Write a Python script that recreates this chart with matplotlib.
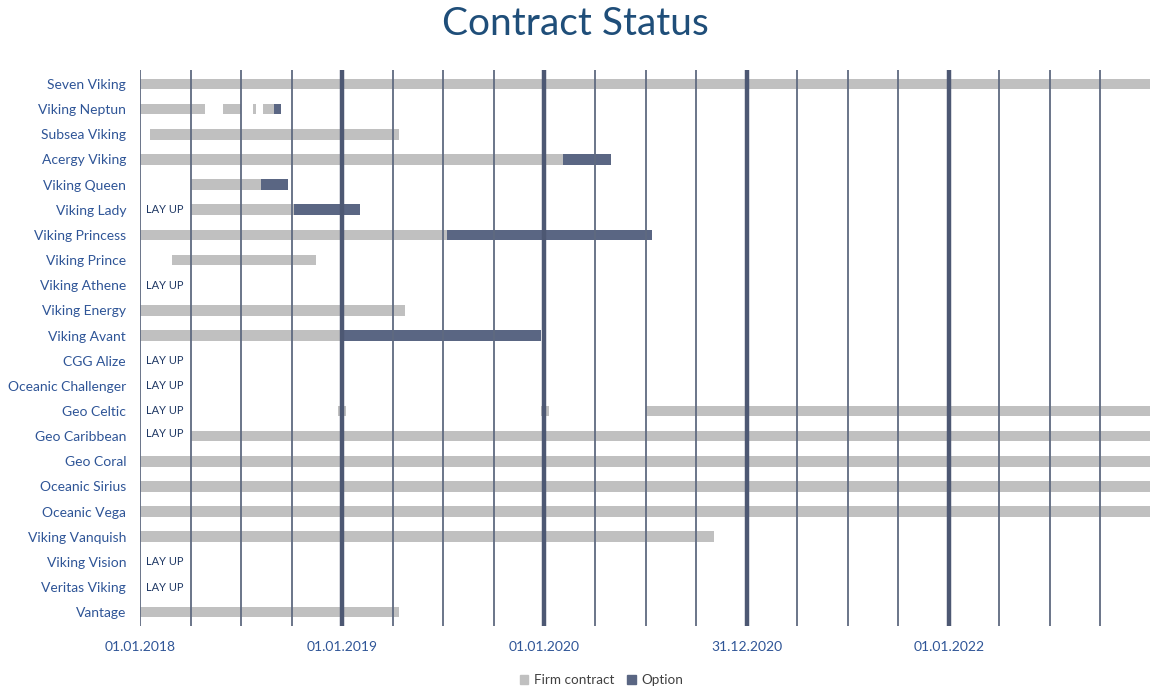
import matplotlib
matplotlib.use("Agg")
import matplotlib.pyplot as plt
from matplotlib.patches import Patch

# vessels top to bottom
vessels = ["Seven Viking", "Viking Neptun", "Subsea Viking", "Acergy Viking",
           "Viking Queen", "Viking Lady", "Viking Princess", "Viking Prince",
           "Viking Athene", "Viking Energy", "Viking Avant", "CGG Alize",
           "Oceanic Challenger", "Geo Celtic", "Geo Caribbean", "Geo Coral",
           "Oceanic Sirius", "Oceanic Vega", "Viking Vanquish", "Viking Vision",
           "Veritas Viking", "Vantage"]

# time in years after 01.01.2018
firm_vessel = ["Seven Viking", "Viking Neptun", "Viking Neptun", "Viking Neptun",
               "Viking Neptun", "Subsea Viking", "Acergy Viking", "Viking Queen",
               "Viking Lady", "Viking Princess", "Viking Prince", "Viking Energy",
               "Viking Avant", "Geo Celtic", "Geo Celtic", "Geo Celtic",
               "Geo Caribbean", "Geo Coral", "Oceanic Sirius", "Oceanic Vega",
               "Viking Vanquish", "Vantage"]
firm_start = [0.0, 0.0, 0.41, 0.56, 0.61, 0.05, 0.0, 0.25,
              0.25, 0.0, 0.16, 0.0,
              0.0, 0.98, 1.985, 2.5,
              0.25, 0.0, 0.0, 0.0,
              0.0, 0.0]
firm_end = [5.0, 0.32, 0.50, 0.575, 0.665, 1.28, 2.09, 0.60,
            0.76, 1.52, 0.87, 1.31,
            1.0, 1.02, 2.025, 5.0,
            5.0, 5.0, 5.0, 5.0,
            2.84, 1.28]

option_vessel = ["Viking Neptun", "Acergy Viking", "Viking Queen", "Viking Lady",
                 "Viking Princess", "Viking Avant"]
option_start = [0.665, 2.09, 0.60, 0.76, 1.52, 1.0]
option_end = [0.695, 2.33, 0.73, 1.09, 2.53, 1.985]

layup_vessels = ["Viking Lady", "Viking Athene", "CGG Alize", "Oceanic Challenger",
                 "Geo Celtic", "Geo Caribbean", "Viking Vision", "Veritas Viking"]

year_labels = ["01.01.2018", "01.01.2019", "01.01.2020", "31.12.2020", "01.01.2022"]

plt.rcParams['font.family'] = ['Lato', 'DejaVu Sans']

FIRM = "#c0c0c0"
OPTION = "#5a6683"
GRID = "#5f6a80"
TEXT = "#2f5597"

fig = plt.figure(figsize=(11.5, 6.91), dpi=100)
ax = fig.add_axes([140 / 1150, 1 - 626 / 691, 1 - 140 / 1150, (626 - 70.2) / 691])

row = {v: i for i, v in enumerate(vessels)}
bar_h = 0.42

for v, s, e in zip(firm_vessel, firm_start, firm_end):
    ax.barh(row[v], e - s, left=s, height=bar_h, color=FIRM, zorder=2)
for v, s, e in zip(option_vessel, option_start, option_end):
    ax.barh(row[v], e - s, left=s, height=bar_h, color=OPTION, zorder=2)

for v in layup_vessels:
    dy = -0.12 if v == "Geo Caribbean" else 0
    ax.text(0.03, row[v] + dy, "LAY UP", fontsize=8, color="#1f3864",
            va="center", ha="left", zorder=4)

# quarter lines thin, year lines thick
for q in range(20):
    x = q / 4
    if q % 4 == 0 and q > 0:
        ax.axvline(x, color="#4d5873", lw=3.2, zorder=3)
    else:
        ax.axvline(x, color=GRID, lw=1.3, zorder=3)

ax.set_xlim(0, 4.995)
ax.set_ylim(len(vessels) - 0.45, -0.55)
ax.set_yticks(range(len(vessels)))
ax.set_yticklabels(vessels, fontsize=10, color=TEXT)
ax.set_xticks(range(5))
ax.set_xticklabels(year_labels, fontsize=10, color=TEXT)
ax.tick_params(length=0)
ax.tick_params(axis="y", pad=10)
ax.tick_params(axis="x", pad=11)
for sp in ax.spines.values():
    sp.set_visible(False)

fig.text(0.5, 1 - 24 / 691, "Contract Status", ha="center", va="center",
         fontsize=28, color="#1f4e79")

handles = [Patch(color=FIRM, label="Firm contract"),
           Patch(color=OPTION, label="Option")]
fig.legend(handles=handles, loc="center", bbox_to_anchor=(0.523, 1 - 680 / 691),
           ncol=2, frameon=False, fontsize=9.7, handlelength=0.6, handleheight=0.6,
           columnspacing=1.0, handletextpad=0.4, labelcolor="#404040")

fig.savefig("out.png", dpi=100)
